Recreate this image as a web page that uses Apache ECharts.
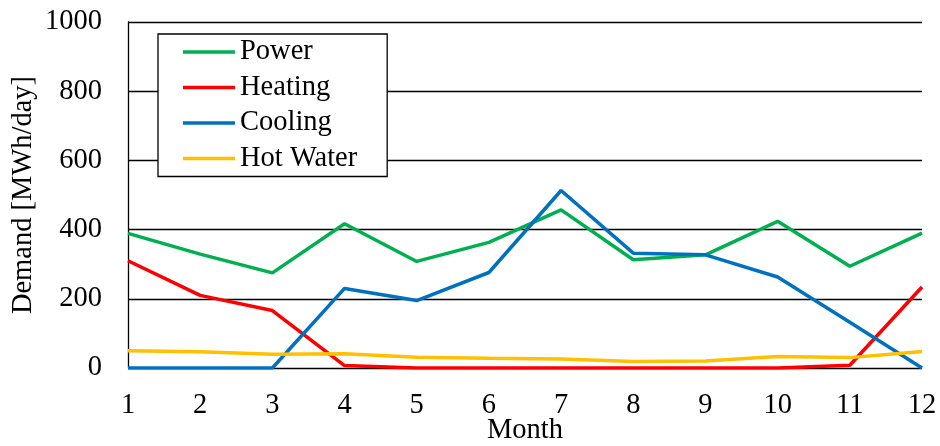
<!DOCTYPE html>
<html><head><meta charset="utf-8">
<script src="https://cdn.jsdelivr.net/npm/echarts@6/dist/echarts.min.js"></script>
<style>html,body{margin:0;padding:0;background:#fff}#c{width:940px;height:446px}</style>
</head><body><div id="c"></div>
<script>
const months = ['1','2','3','4','5','6','7','8','9','10','11','12'];
const power = [389, 329, 275, 417, 308, 363, 457, 313, 327, 424, 294, 390];
const heating = [310, 210, 166, 7, 0, 0, 0, 0, 0, 0, 8, 234];
const cooling = [0, 0, 0, 230, 195, 276, 513, 332, 327, 263, 132, 0];
const hotWater = [50, 47, 40, 41, 31, 28, 26, 19, 20, 33, 30, 48];
const seriesNames = ['Power', 'Heating', 'Cooling', 'Hot Water'];
const colors = ['#00B050', '#FF0000', '#0070C0', '#FFC000'];
const dataSets = [power, heating, cooling, hotWater];

const font = 'Liberation Serif';
const fs = 28.5;
const chart = echarts.init(document.getElementById('c'));
chart.setOption({
  animation: false,
  textStyle: { fontFamily: font, color: '#000' },
  grid: { left: 128, right: 18, top: 22, bottom: 78, outerBoundsMode: 'none', containLabel: false },
  legend: {
    left: 158, top: 34, orient: 'vertical',
    backgroundColor: '#fff', borderColor: '#000', borderWidth: 1.3,
    padding: [3, 30, 3, 25],
    itemWidth: 52, itemHeight: 3.5, itemGap: 5.5, icon: 'rect',
    textStyle: { fontFamily: font, fontSize: fs, color: '#000', lineHeight: 30 },
    data: seriesNames
  },
  xAxis: {
    type: 'category', data: months, boundaryGap: false,
    name: 'Month', nameLocation: 'middle', nameGap: 48, nameMoveOverlap: false,
    nameTextStyle: { fontFamily: font, fontSize: fs, color: '#000' },
    axisLine: { show: false }, axisTick: { show: false },
    axisLabel: { fontFamily: font, fontSize: fs, color: '#000', margin: 23 }
  },
  yAxis: {
    type: 'value', min: 0, max: 1000, interval: 200,
    name: 'Demand [MWh/day]', nameLocation: 'middle', nameGap: 90, nameMoveOverlap: false,
    nameTextStyle: { fontFamily: font, fontSize: fs, color: '#000' },
    axisLine: { show: true, lineStyle: { color: '#000', width: 1.3 } },
    axisTick: { show: false },
    axisLabel: { fontFamily: font, fontSize: fs, color: '#000', margin: 26, formatter: v => String(v) },
    splitLine: { lineStyle: { color: '#000', width: 1.3 } }
  },
  series: seriesNames.map((n, i) => ({
    name: n, type: 'line', data: dataSets[i], symbol: 'none',
    color: colors[i], lineStyle: { color: colors[i], width: 3.5 }
  }))
});
</script></body></html>
